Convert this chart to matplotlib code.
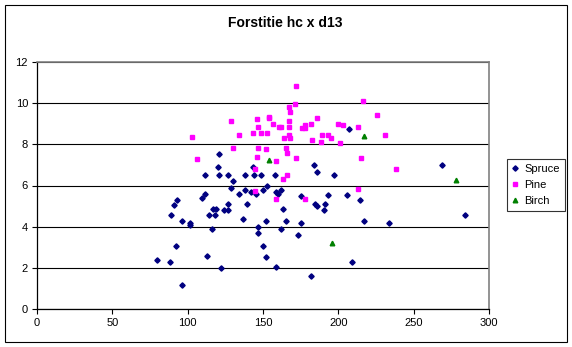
import numpy as np
import matplotlib
matplotlib.use('Agg')
import matplotlib.pyplot as plt
from matplotlib.patches import Rectangle

plt.rcParams['font.family'] = ['Liberation Sans', 'DejaVu Sans']

# Spruce (hc, d13)
spruce_x = [93.0, 90.8, 89.0, 96.1, 101.4, 101.4, 92.1, 79.5, 88.2, 96.1,
            120.9, 120.0, 143.3, 111.4, 120.9, 126.9, 138.2, 144.2, 148.8, 157.9,
            183.8, 185.8, 197.1, 130.0, 128.9, 152.6, 138.2, 150.0, 133.8, 142.2,
            145.3, 158.6, 159.9, 161.9, 111.4, 109.4, 175.2, 192.9, 184.7, 186.0,
            190.9, 190.2, 127.1, 139.3, 116.7, 118.9, 163.3, 123.8, 127.1, 114.1,
            118.1, 136.7, 152.0, 165.2, 175.2, 116.1, 146.6, 146.6, 161.9, 173.2,
            150.0, 152.0, 112.8, 121.8, 158.8, 181.9, 207.1, 269.1, 206.0, 214.4,
            284.2, 217.1, 233.9, 209.1]
spruce_y = [5.31, 5.05, 4.57, 4.29, 4.19, 4.10, 3.06, 2.40, 2.30, 1.18,
            7.53, 6.92, 6.92, 6.53, 6.53, 6.53, 6.53, 6.50, 6.53, 6.53,
            7.00, 6.67, 6.53, 6.23, 5.88, 5.99, 5.78, 5.78, 5.59, 5.70,
            5.59, 5.70, 5.59, 5.78, 5.60, 5.39, 5.49, 5.54, 5.10, 5.00,
            5.10, 4.81, 5.10, 5.12, 4.87, 4.87, 4.87, 4.81, 4.81, 4.58,
            4.58, 4.37, 4.29, 4.29, 4.19, 3.90, 4.00, 3.71, 3.90, 3.61,
            3.06, 2.54, 2.59, 2.01, 2.06, 1.62, 8.76, 7.00, 5.54, 5.31,
            4.57, 4.29, 4.19, 2.30]

# Pine
pine_x = [171.6, 171.0, 167.0, 167.6, 128.5, 145.7, 153.7, 153.7, 156.4, 167.0,
          185.6, 181.6, 177.6, 175.6, 177.6, 160.3, 161.7, 146.4, 167.0, 199.5,
          103.2, 134.4, 143.1, 148.4, 152.4, 167.0, 163.7, 167.6, 188.9, 192.9,
          194.9, 182.3, 188.2, 200.9, 129.8, 146.4, 151.7, 165.0, 165.7, 106.5,
          145.7, 158.3, 171.6, 144.6, 165.7, 163.0, 144.6, 158.3, 177.6, 216.2,
          225.5, 202.9, 212.8, 230.8, 214.8, 238.1, 212.8]
pine_y = [10.82, 9.95, 9.80, 9.56, 9.12, 9.22, 9.33, 9.26, 8.97, 9.12,
          9.27, 8.97, 8.93, 8.78, 8.78, 8.83, 8.83, 8.83, 8.83, 8.97,
          8.34, 8.44, 8.54, 8.54, 8.54, 8.44, 8.29, 8.29, 8.44, 8.44,
          8.29, 8.20, 8.10, 8.05, 7.81, 7.81, 7.76, 7.81, 7.57, 7.27,
          7.37, 7.21, 7.32, 6.79, 6.53, 6.30, 5.72, 5.33, 5.33, 10.09,
          9.41, 8.93, 8.83, 8.44, 7.32, 6.79, 5.82]

# Birch
birch_x = [153.9, 196.0, 217.3, 278.2]
birch_y = [7.24, 3.21, 8.41, 6.27]

x_ticks = [0, 50, 100, 150, 200, 250, 300]
y_ticks = [0, 2, 4, 6, 8, 10, 12]

fig = plt.figure(figsize=(5.72, 3.47), dpi=100)
fig.patch.set_facecolor('white')

# chart area frame
fig.patches.append(Rectangle((4.5 / 572, 1 - 342 / 347), 562 / 572, 337 / 347,
                             transform=fig.transFigure, fill=False,
                             edgecolor='black', linewidth=0.8))

ax = fig.add_axes([37 / 572, 1 - 309 / 347, 452 / 572, 247 / 347])

ax.plot(spruce_x, spruce_y, linestyle='none', marker='D', markersize=2.7,
        color='#000080', label='Spruce', zorder=3)
ax.plot(pine_x, pine_y, linestyle='none', marker='s', markersize=2.9,
        color='#FF00FF', label='Pine', zorder=3)
ax.plot(birch_x, birch_y, linestyle='none', marker='^', markersize=3.3,
        color='#008000', label='Birch', zorder=3)

ax.set_xlim(0, 300)
ax.set_ylim(0, 12)
ax.set_xticks(x_ticks)
ax.set_yticks(y_ticks)
ax.tick_params(direction='out', length=3.5, width=0.8, labelsize=8, colors='black', pad=3)
ax.yaxis.grid(True, color='black', linewidth=0.8)
ax.set_axisbelow(True)

for side in ['left', 'bottom']:
    ax.spines[side].set_color('black')
    ax.spines[side].set_linewidth(0.9)
for side in ['top', 'right']:
    ax.spines[side].set_color('#808080')
    ax.spines[side].set_linewidth(1.2)

fig.text(0.5 * (221.7 + 348.3) / 572, 1 - 23 / 347, 'Forstitie hc x d13',
         ha='center', va='center', fontsize=10, fontweight='bold')

leg = fig.legend(loc='upper left', bbox_to_anchor=(507 / 572, 1 - 159 / 347),
                 fontsize=8, frameon=True, fancybox=False, borderpad=0.45,
                 handlelength=0.6, handletextpad=0.5, labelspacing=0.55,
                 borderaxespad=0, markerscale=1.0)
leg.get_frame().set_edgecolor('black')
leg.get_frame().set_linewidth(0.8)

fig.savefig('out.png', dpi=100)
